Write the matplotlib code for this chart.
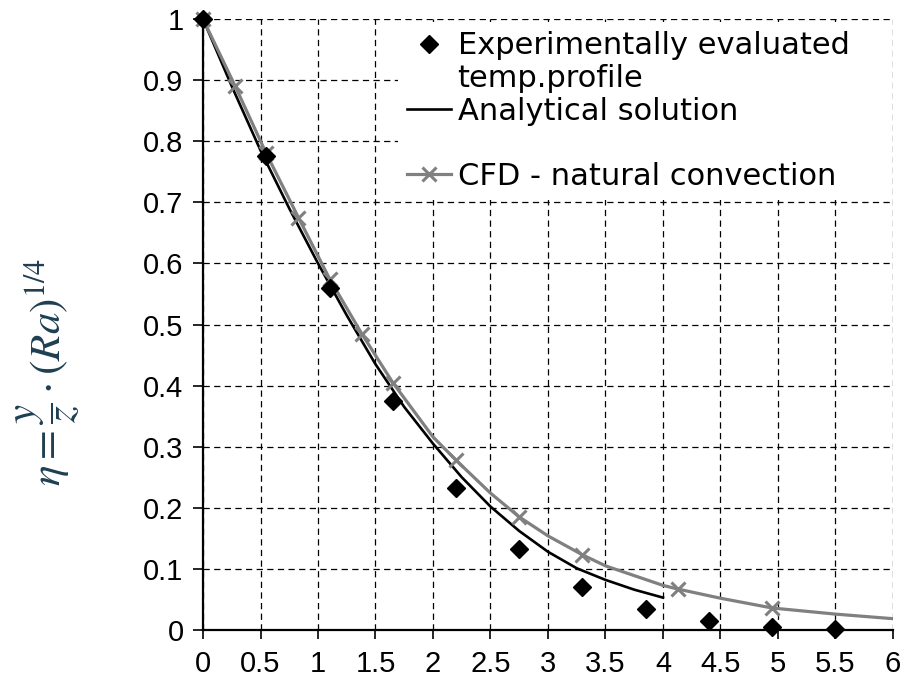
import matplotlib
matplotlib.use("Agg")
import matplotlib.pyplot as plt
from matplotlib.lines import Line2D

# ---- data ----
exp_x = [0, 0.55, 1.1, 1.65, 2.2, 2.75, 3.3, 3.85, 4.4, 4.95, 5.5]
exp_y = [1.0, 0.775, 0.56, 0.375, 0.232, 0.133, 0.071, 0.034, 0.014, 0.005, 0.001]

ana_x = [0, 0.25, 0.5, 0.75, 1.0, 1.25, 1.5, 1.75, 2.0, 2.25, 2.5, 2.75, 3.0, 3.25, 3.5, 3.75, 4.0]
ana_y = [1.0, 0.89, 0.785, 0.69, 0.6, 0.515, 0.435, 0.365, 0.305, 0.25, 0.202, 0.162, 0.128, 0.101, 0.082, 0.066, 0.053]

cfd_line_x = [0, 0.28, 0.55, 0.83, 1.1, 1.38, 1.65, 2.0, 2.2, 2.5, 2.75, 3.0, 3.3, 3.5, 4.0, 4.13, 4.5, 4.95, 5.5, 6.0]
cfd_line_y = [1.0, 0.89, 0.78, 0.675, 0.575, 0.485, 0.405, 0.316, 0.278, 0.224, 0.185, 0.154, 0.123, 0.105, 0.073, 0.067, 0.052, 0.036, 0.026, 0.0185]
cfd_mark_x = [0, 0.28, 0.55, 0.83, 1.1, 1.38, 1.65, 2.2, 2.75, 3.3, 4.13, 4.95]
cfd_mark_y = [1.0, 0.89, 0.78, 0.675, 0.575, 0.485, 0.405, 0.278, 0.185, 0.123, 0.067, 0.036]

x_ticks = [0, 0.5, 1, 1.5, 2, 2.5, 3, 3.5, 4, 4.5, 5, 5.5, 6]
x_ticklabels = ["0", "0.5", "1", "1.5", "2", "2.5", "3", "3.5", "4", "4.5", "5", "5.5", "6"]
y_ticks = [0, 0.1, 0.2, 0.3, 0.4, 0.5, 0.6, 0.7, 0.8, 0.9, 1]
y_ticklabels = ["0", "0.1", "0.2", "0.3", "0.4", "0.5", "0.6", "0.7", "0.8", "0.9", "1"]

lbl_exp = ["Experimentally evaluated", "temp.profile"]
lbl_ana = "Analytical solution"
lbl_cfd = "CFD - natural convection"

plt.rcParams['font.family'] = ['Liberation Sans', 'DejaVu Sans']
plt.rcParams['mathtext.fontset'] = 'stix'

fig = plt.figure(figsize=(9.15, 6.88), dpi=100)
ax = fig.add_axes([203/915, 1-630/688, 690/915, 611/688])

ax.plot(ana_x, ana_y, color='black', lw=1.9, zorder=3)
ax.plot(cfd_line_x, cfd_line_y, color='#808080', lw=2.3, zorder=4)
ax.plot(cfd_mark_x, cfd_mark_y, linestyle='none', marker='x', ms=10, mew=2.2,
        color='#808080', zorder=4, clip_on=False)
ax.plot(exp_x, exp_y, linestyle='none', marker='D', ms=9, color='black',
        zorder=5, clip_on=False)

ax.set_xlim(0, 6)
ax.set_ylim(0, 1)
ax.set_xticks(x_ticks)
ax.set_xticklabels(x_ticklabels)
ax.set_yticks(y_ticks)
ax.set_yticklabels(y_ticklabels)
ax.tick_params(axis='both', labelsize=21, width=1.2, color='black')
ax.tick_params(axis='x', direction='out', length=6.5, pad=8)
ax.tick_params(axis='y', direction='out', length=7, pad=7)

ax.grid(True, color='black', linestyle=(0, (5, 3.5)), linewidth=0.9)
ax.set_axisbelow(True)
for s in ['top', 'right']:
    ax.spines[s].set_visible(False)
for s in ['left', 'bottom']:
    ax.spines[s].set_linewidth(1.6)

fig.text(48/915, 1-372/688,
         r'$\eta = \dfrac{y}{z}\cdot\left(Ra\right)^{1/4}$',
         rotation=90, ha='center', va='center', fontsize=31, color='#1e3f52')

# legend
h_exp = Line2D([], [], linestyle='none', marker='D', ms=9, color='black')
h_blank = Line2D([], [], linestyle='none')
h_ana = Line2D([], [], color='black', lw=1.9)
h_cfd = Line2D([], [], color='#808080', lw=2.3, marker='x', ms=10, mew=2.2)
leg = ax.legend([h_exp, h_blank, h_ana, h_blank, h_cfd],
                [lbl_exp[0], lbl_exp[1], lbl_ana, "", lbl_cfd],
                loc='upper left', bbox_to_anchor=(0.2826, 0.5, 0.713, 0.495),
                mode='expand', borderaxespad=0, borderpad=0.3,
                labelspacing=0.12, handlelength=1.45, handletextpad=0.2,
                prop={'family': 'DejaVu Sans', 'size': 22},
                frameon=True, fancybox=False, framealpha=1,
                facecolor='white', edgecolor='none')
leg.set_zorder(6)

fig.savefig('out.png', dpi=100)
